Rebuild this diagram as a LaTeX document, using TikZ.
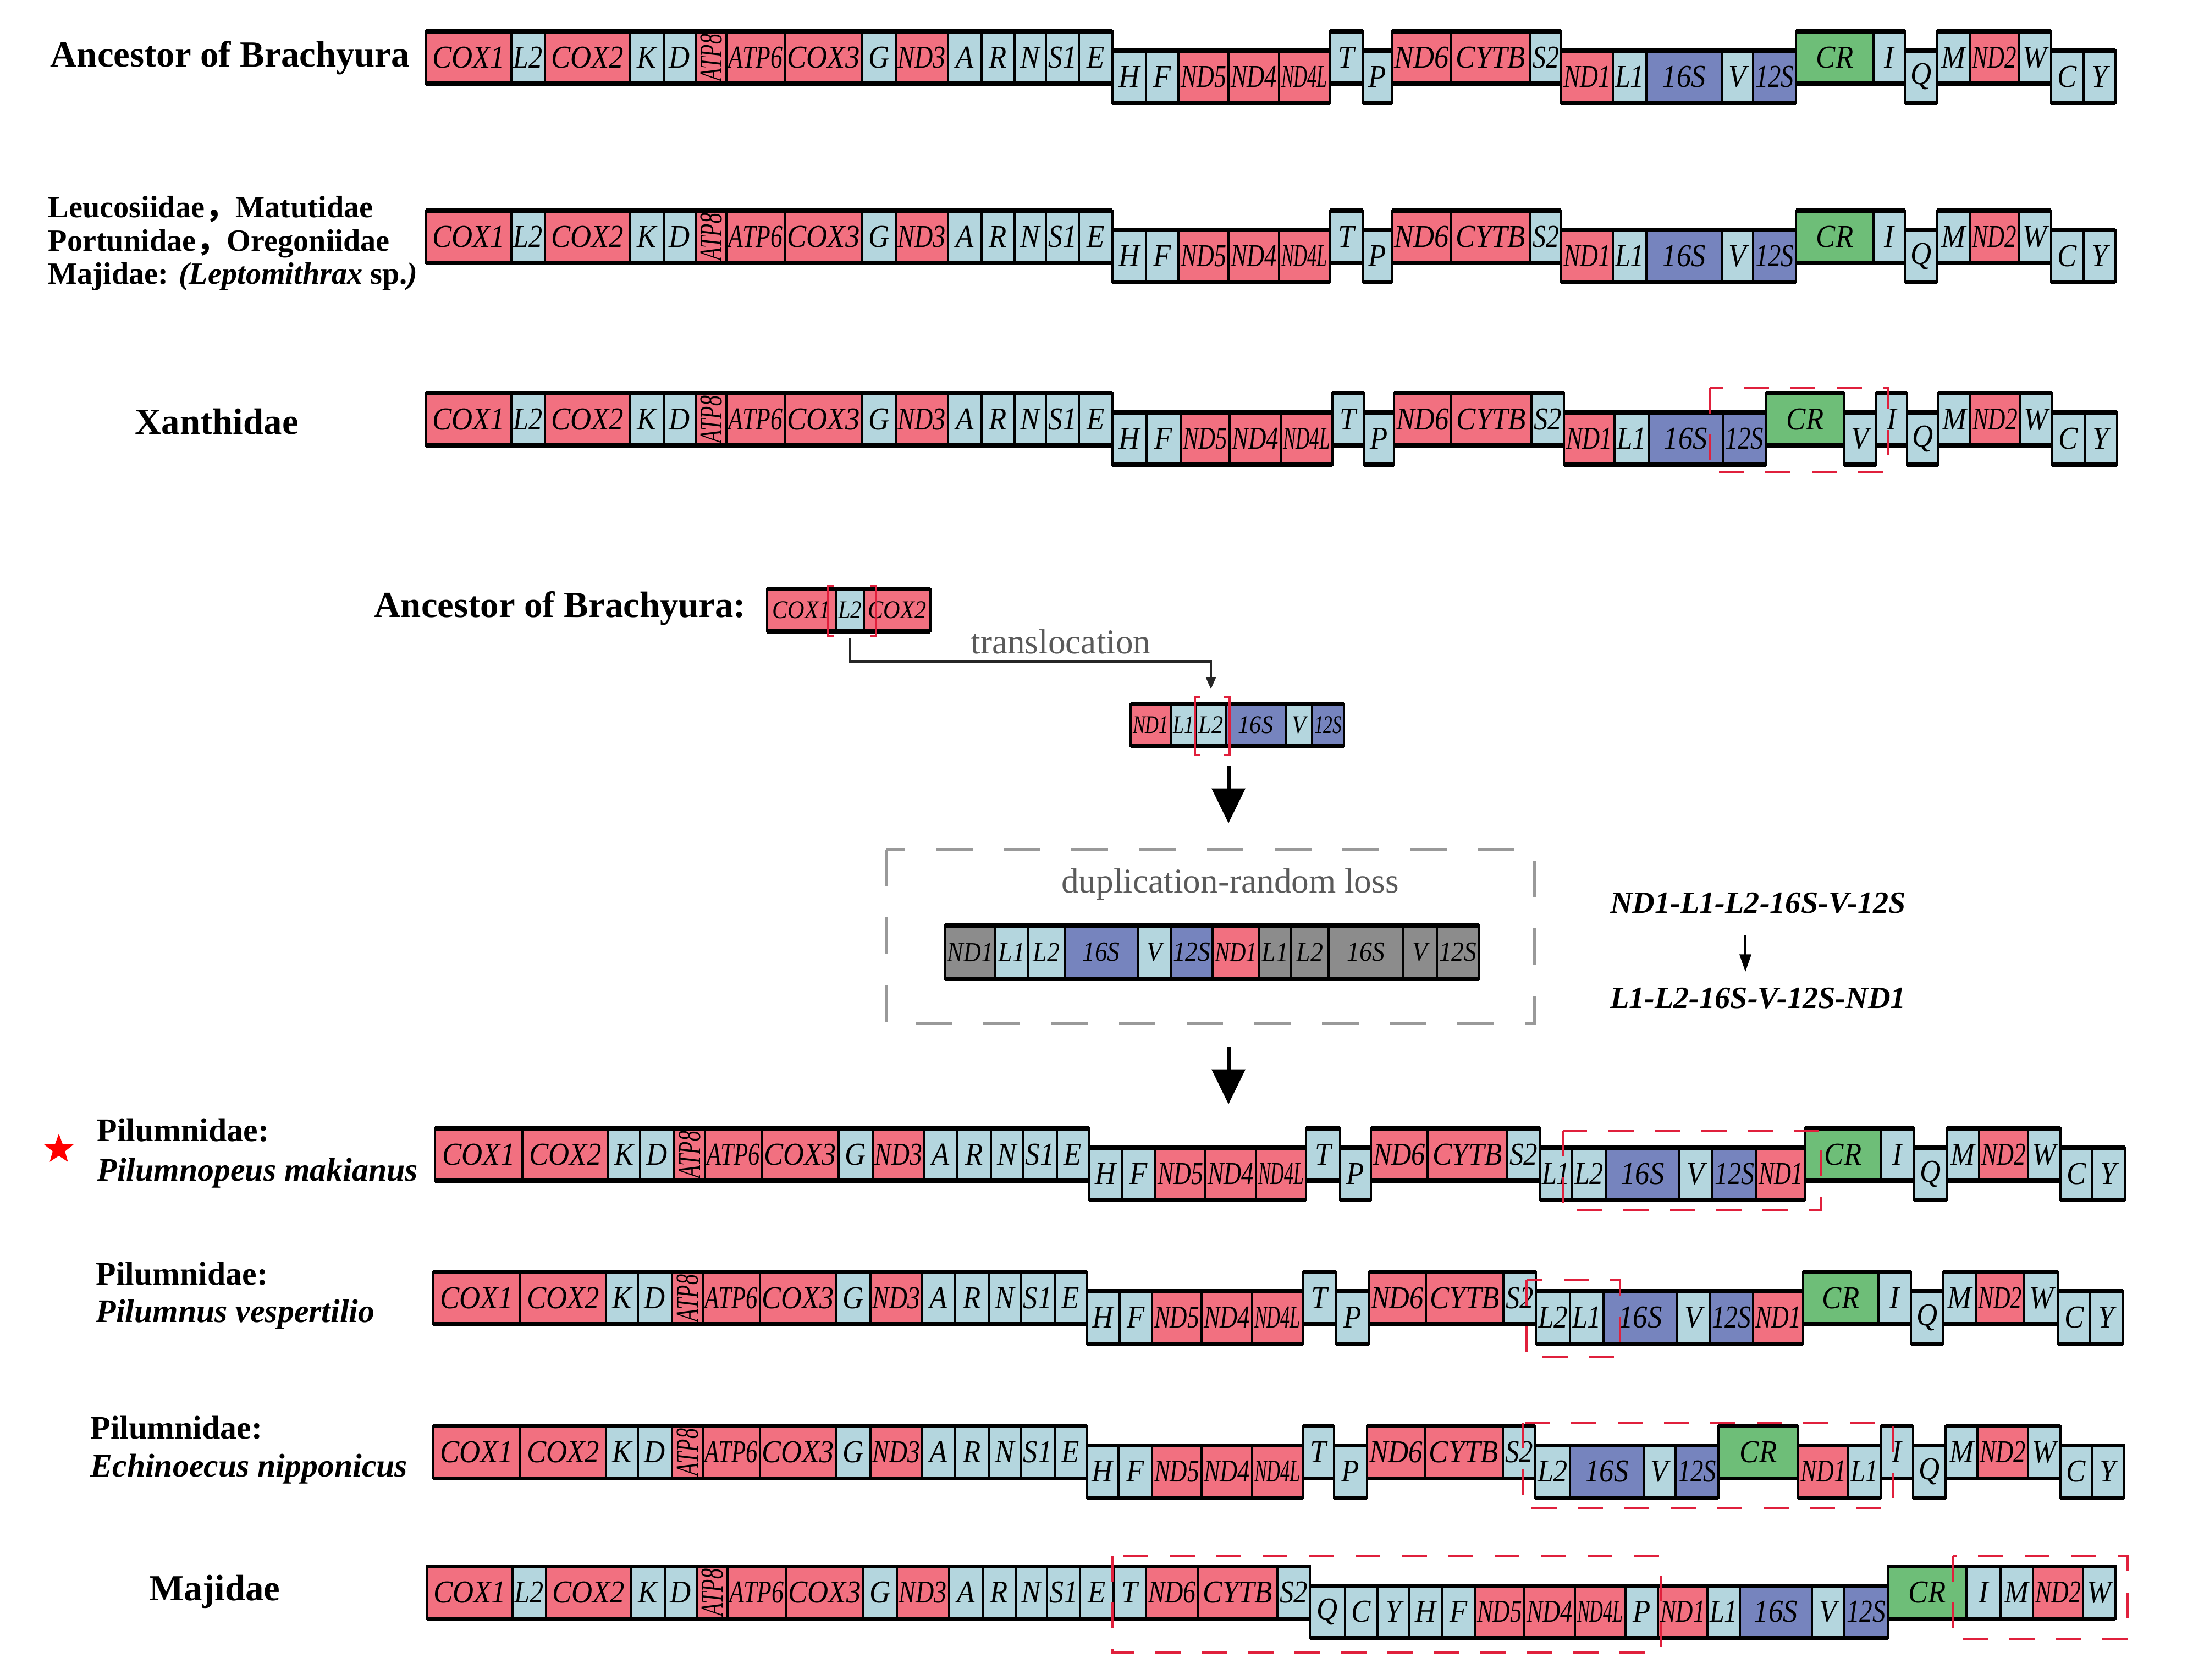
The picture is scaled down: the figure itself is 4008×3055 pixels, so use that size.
\documentclass[tikz,border=0pt]{standalone}
\usepackage{fontspec}
\setmainfont{Liberation Serif}
\newfontfamily\cjk{Noto Sans CJK SC}
\usetikzlibrary{shapes.geometric,arrows.meta}
\definecolor{pc}{HTML}{F27080}
\definecolor{tc}{HTML}{B4D6DE}
\definecolor{rc}{HTML}{7684BE}
\definecolor{cc}{HTML}{6EBE78}
\definecolor{gc}{HTML}{8C8C8C}
\definecolor{dred}{HTML}{E0203C}
\definecolor{txtgray}{HTML}{5A5A5A}
\newlength\fitw
\def\vsc{1.1}
\newcommand\fitlab[2]{\settowidth\fitw{#2}\ifdim\fitw>#1pt\relax\pgfmathsetmacro\fitsc{#1/\fitw}\else\def\fitsc{1}\fi\scalebox{\fitsc}[\vsc]{#2}}
\def\bh{95}\def\lo{35}
\def\glabfont{\fontsize{15}{15}\selectfont\itshape}
\newcommand\generow[4]{%
  \xdef\curx{#3}%
  \foreach \lab/\w/\lev/\ty [count=\i] in {#4}{%
    \pgfmathsetmacro\yt{#2+\lo*(\lev==1)}%
    \pgfmathsetmacro\xe{\curx+\w}%
    \pgfmathsetmacro\xm{\curx+\w/2}%
    \pgfmathsetmacro\ym{\yt+\bh/2}%
    \pgfmathsetmacro\rot{90*(\lev==2)}%
    \pgfmathsetmacro\mw{(\lev==2) ? (\bh-10)*0.2845 : (\w-8)*0.2845}%
    \fill[fill=\ty] (\curx,\yt) rectangle (\xe,\yt+\bh);
    \node[glab,rotate=\rot] (#1-\i) at (\xm,\ym) {\fitlab{\mw}{\lab}};
    \xdef\curx{\xe}%
  }%
  \xdef\curx{#3}%
  \foreach \lab/\w/\lev/\ty in {#4}{%
    \pgfmathsetmacro\yt{#2+\lo*(\lev==1)}%
    \pgfmathsetmacro\xe{\curx+\w}%
    \draw[vline] (\curx,\yt) rectangle (\xe,\yt+\bh);
    \draw[hline] (\curx,\yt) -- (\xe,\yt) (\curx,\yt+\bh) -- (\xe,\yt+\bh);
    \xdef\curx{\xe}%
  }%
}
% left block with L2 (ancestral order)
\newcommand\leftA[3]{\generow{#1}{#2}{#3}{COX1/156/0/pc, L2/61/0/tc, COX2/154/0/pc, K/62/0/tc, D/58/0/tc, ATP8/56/2/pc, ATP6/106/0/pc, COX3/141/0/pc, G/61/0/tc, ND3/95/0/pc, A/61/0/tc, R/60/0/tc, N/57/0/tc, S1/60/0/tc, E/61/0/tc}}
% left block without L2 (Pilumnidae)
\newcommand\leftB[3]{\generow{#1}{#2}{#3}{COX1/159/0/pc, COX2/156/0/pc, K/58/0/tc, D/62/0/tc, ATP8/56/2/pc, ATP6/104/0/pc, COX3/139/0/pc, G/62/0/tc, ND3/94/0/pc, A/60/0/tc, R/61/0/tc, N/58/0/tc, S1/62/0/tc, E/58/0/tc}}
\newcommand\rightA[3]{\generow{#1}{#2}{#3}{H/61/1/tc, F/59/1/tc, ND5/91/1/pc, ND4/92/1/pc, ND4L/92/1/pc, T/60/0/tc, P/53/1/tc, ND6/108/0/pc, CYTB/144/0/pc, S2/56/0/tc, ND1/94/1/pc, L1/61/1/tc, 16S/137/1/rc, V/57/1/tc, 12S/78/1/rc, CR/141/0/cc, I/57/0/tc, Q/59/1/tc, M/59/0/tc, ND2/89/0/pc, W/59/0/tc, C/59/1/tc, Y/58/1/tc}}
\tikzset{
 glab/.style={inner sep=0pt, font=\glabfont},
 vline/.style={draw=black, line width=0.9pt},
 hline/.style={draw=black, line width=2pt},
 reddash/.style={draw=dred, line width=1.3pt, dash pattern=on 13pt off 11pt},
 redbrk/.style={draw=dred, line width=1.2pt},
 graydash/.style={draw=black!40, line width=1.6pt, dash pattern=on 19pt off 16pt},
 rowlab/.style={anchor=base west, inner sep=0pt, font=\fontsize{19}{22}\selectfont\bfseries},
 smlab/.style={anchor=base west, inner sep=0pt, font=\fontsize{16}{18}\selectfont\bfseries},
 pillab/.style={anchor=base west, inner sep=0pt, font=\fontsize{17}{20}\selectfont\bfseries},
 graytext/.style={inner sep=0pt, text=txtgray, font=\fontsize{18}{20}\selectfont},
 eqtext/.style={inner sep=0pt, font=\fontsize{16}{18}\selectfont\bfseries\itshape},
 bigarrow/.style={line width=2pt, -{Triangle[length=18pt,width=17pt]}},
 tarrow/.style={draw=black!85, line width=0.9pt, -{Triangle[length=6pt,width=5pt]}},
 sarrow/.style={line width=0.9pt, -{Triangle[length=9pt,width=6pt]}},
}
\begin{document}
\begin{tikzpicture}[x=0.01cm,y=-0.01cm]
\useasboundingbox (0,0) rectangle (4008,3055);
\fill[white] (0,0) rectangle (4008,3055);

% ---------- Row 1: Ancestor of Brachyura
\node[rowlab] (lab1) at (91,122) {Ancestor of Brachyura};
\leftA{r1a}{57}{774}
\rightA{r1b}{57}{2023}

% ---------- Row 2
\node[smlab] (lab2a) at (87,396) {Leucosiidae{\cjk ，}Matutidae};
\node[smlab] (lab2b) at (87,457) {Portunidae{\cjk ，}Oregoniidae};
\node[smlab] (lab2c) at (87,517) {Majidae: \textit{(Leptomithrax} sp.\textit{)}};
\leftA{r2a}{383}{774}
\rightA{r2b}{383}{2023}

% ---------- Row 3: Xanthidae
\node[rowlab] (lab3) at (245,790) {Xanthidae};
\leftA{r3a}{715}{774}
\generow{r3b}{715}{2023}{H/62/1/tc, F/62/1/tc, ND5/89/1/pc, ND4/93/1/pc, ND4L/94/1/pc, T/57/0/tc, P/55/1/tc, ND6/104/0/pc, CYTB/146/0/pc, S2/59/0/tc, ND1/92/1/pc, L1/62/1/tc, 16S/135/1/rc, 12S/78/1/rc, CR/143/0/cc, V/58/1/tc, I/56/0/tc, Q/57/1/tc, M/58/0/tc, ND2/90/0/pc, W/59/0/tc, C/59/1/tc, Y/59/1/tc}
\draw[reddash] (3109,706) rectangle (3433,858);

% ---------- Middle: translocation
\node[rowlab] (labm) at (680,1122) {Ancestor of Brachyura:};
\def\bh{77}
\def\glabfont{\fontsize{12}{12}\selectfont\itshape}
\generow{m1}{1071}{1395}{COX1/125/0/pc, L2/51/0/tc, COX2/121/0/pc}
\generow{m2}{1280}{2056}{ND1/73/0/pc, L1/46/0/tc, L2/54/0/tc, 16S/109/0/rc, V/48/0/tc, 12S/58/0/rc}
\draw[redbrk] (1516,1065) -- (1506,1065) -- (1506,1157) -- (1516,1157);
\draw[redbrk] (1583,1065) -- (1593,1065) -- (1593,1157) -- (1583,1157);
\draw[redbrk] (2183,1268) -- (2173,1268) -- (2173,1373) -- (2183,1373);
\draw[redbrk] (2226,1268) -- (2236,1268) -- (2236,1373) -- (2226,1373);
\coordinate (ty1) at (0,1160);
\coordinate (ty2) at (0,1203);
\coordinate (ty3) at (0,1253);
\draw[tarrow] (m1-2.center |- ty1) -- (m1-2.center |- ty2) -| (m2-3.center |- ty3);
\node[graytext] (transl) at (1929,1167) {translocation};

\coordinate (a1s) at (2234,1393);
\coordinate (a1e) at (2234,1497);
\draw[bigarrow] (a1s) -- (a1e);

% ---------- duplication-random loss
\draw[graydash] (1612,1545) rectangle (2790,1861);
\node[graytext] (duptxt) at (2237,1608) {duplication-random loss};
\def\bh{97}
\def\glabfont{\fontsize{13}{13}\selectfont\itshape}
\generow{d}{1683}{1719}{ND1/91/0/gc, L1/60/0/tc, L2/66/0/tc, 16S/133/0/rc, V/60/0/tc, 12S/76/0/rc, ND1/85/0/pc, L1/58/0/gc, L2/68/0/gc, 16S/136/0/gc, V/61/0/gc, 12S/76/0/gc}

\node[eqtext] (eq1) at (3197,1642) {ND1-L1-L2-16S-V-12S};
\node[eqtext] (eq2) at (3197,1815) {L1-L2-16S-V-12S-ND1};
\coordinate (ea) at (3174,1700);
\coordinate (eb) at (3174,1767);
\draw[sarrow] (ea) -- (eb);

\coordinate (a2s) at (2234,1904);
\coordinate (a2e) at (2234,2008);
\draw[bigarrow] (a2s) -- (a2e);

% ---------- Pilumnidae rows
\def\bh{95}
\def\glabfont{\fontsize{15}{15}\selectfont\itshape}
\node[star, star points=5, star point ratio=2.4, fill=red, inner sep=0pt, minimum size=16pt] (star) at (107,2090) {};
\node[pillab] (p1a) at (176,2075) {Pilumnidae:};
\node[pillab] (p1b) at (176,2147) {\itshape Pilumnopeus makianus};
\leftB{p1l}{2052}{791}
\generow{p1r}{2052}{1980}{H/61/1/tc, F/60/1/tc, ND5/91/1/pc, ND4/92/1/pc, ND4L/91/1/pc, T/62/0/tc, P/56/1/tc, ND6/103/0/pc, CYTB/145/0/pc, S2/59/0/tc, L1/59/1/tc, L2/61/1/tc, 16S/134/1/rc, V/60/1/tc, 12S/80/1/rc, ND1/89/1/pc, CR/137/0/cc, I/61/0/tc, Q/59/1/tc, M/59/0/tc, ND2/89/0/pc, W/59/0/tc, C/58/1/tc, Y/59/1/tc}
\draw[reddash] (2842,2057) rectangle (3312,2200);

\node[pillab] (p2a) at (174,2336) {Pilumnidae:};
\node[pillab] (p2b) at (174,2404) {\itshape Pilumnus vespertilio};
\leftB{p2l}{2313}{787}
\generow{p2r}{2313}{1976}{H/60/1/tc, F/59/1/tc, ND5/90/1/pc, ND4/92/1/pc, ND4L/92/1/pc, T/61/0/tc, P/59/1/tc, ND6/104/0/pc, CYTB/141/0/pc, S2/59/0/tc, L2/62/1/tc, L1/61/1/tc, 16S/134/1/rc, V/59/1/tc, 12S/79/1/rc, ND1/91/1/pc, CR/137/0/cc, I/59/0/tc, Q/59/1/tc, M/59/0/tc, ND2/88/0/pc, W/62/0/tc, C/58/1/tc, Y/59/1/tc}
\draw[reddash] (2776,2328) rectangle (2946,2468);

\node[pillab] (p3a) at (164,2616) {Pilumnidae:};
\node[pillab] (p3b) at (164,2685) {\itshape Echinoecus nipponicus};
\leftB{p3l}{2593}{787}
\generow{p3r}{2593}{1976}{H/58/1/tc, F/61/1/tc, ND5/90/1/pc, ND4/92/1/pc, ND4L/92/1/pc, T/57/0/tc, P/60/1/tc, ND6/105/0/pc, CYTB/142/0/pc, S2/59/0/tc, L2/63/1/tc, 16S/134/1/rc, V/58/1/tc, 12S/78/1/rc, CR/145/0/cc, ND1/91/1/pc, L1/59/1/tc, I/59/0/tc, Q/59/1/tc, M/58/0/tc, ND2/92/0/pc, W/59/0/tc, C/57/1/tc, Y/59/1/tc}
\draw[reddash] (2770,2588) rectangle (3442,2742);

% ---------- Majidae
\node[rowlab] (labmj) at (271,2910) {Majidae};
\leftA{mja}{2848}{776}
\generow{mjb}{2848}{2025}{T/59/0/tc, ND6/95/0/pc, CYTB/144/0/pc, S2/59/0/tc, Q/64/1/tc, C/59/1/tc, Y/58/1/tc, H/60/1/tc, F/59/1/tc, ND5/90/1/pc, ND4/92/1/pc, ND4L/92/1/pc, P/59/1/tc, ND1/90/1/pc, L1/59/1/tc, 16S/131/1/rc, V/59/1/tc, 12S/79/1/rc, CR/143/0/cc, I/62/0/tc, M/59/0/tc, ND2/91/0/pc, W/59/0/tc}
\draw[reddash] (2023,2830) rectangle (3020,3005);
\draw[reddash] (3551,2830) rectangle (3869,2980);
\end{tikzpicture}
\end{document}
